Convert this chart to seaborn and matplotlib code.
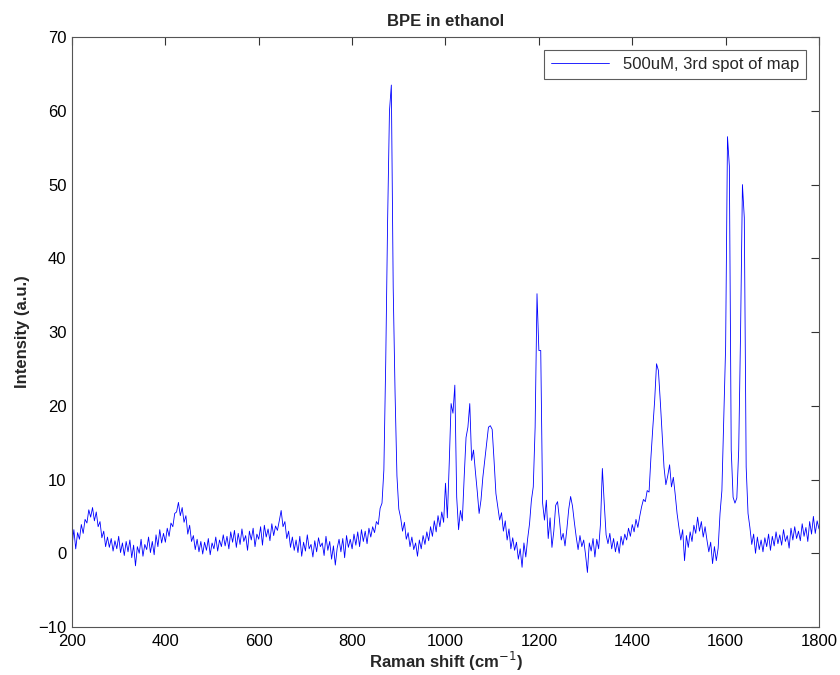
# BPE in ethanol - Raman spectrum
import numpy as np
import pandas as pd
import matplotlib
matplotlib.use('Agg')
import matplotlib.pyplot as plt
import seaborn as sns

# Raman shift axis, one reading every 4 cm-1 from 200 to 1800
shift_start = 200
shift_step = 4

# intensity, 10 readings (40 cm-1) per row
intensity = [
    1.0, 3.2, 0.6, 2.8, 1.9, 3.9, 2.7, 4.6, 4.1, 5.9,        # 200
    4.9, 6.2, 4.4, 5.6, 3.6, 4.3, 2.1, 3.0, 0.9, 2.2,        # 240
    0.8, 2.0, 0.3, 1.7, 0.6, 2.3, 0.1, 1.4, -0.3, 1.6,       # 280
    0.2, 1.8, -0.6, 1.1, -1.7, 0.9, 0.0, 1.9, -0.4, 1.2,     # 320
    0.5, 2.2, 0.1, 1.6, -0.2, 2.5, 0.9, 3.2, 1.4, 2.7,       # 360
    1.5, 3.4, 2.3, 4.1, 3.6, 5.4, 5.6, 6.9, 5.1, 6.2,        # 400
    4.2, 5.1, 2.6, 3.8, 1.6, 2.4, 0.5, 1.9, 0.2, 1.6,        # 440
    -0.1, 1.5, 0.4, 2.0, -0.2, 1.4, 0.6, 2.2, 0.3, 1.8,      # 480
    0.9, 2.5, 1.0, 2.3, 0.6, 2.9, 1.5, 3.1, 0.8, 2.7,        # 520
    1.2, 3.3, 1.6, 2.4, 0.4, 3.0, 1.8, 3.4, 0.9, 2.6,        # 560
    1.9, 3.6, 1.1, 3.8, 2.2, 3.3, 1.7, 4.0, 2.4, 3.7,        # 600
    3.1, 4.4, 5.8, 3.6, 4.3, 2.0, 3.0, 0.8, 2.2, 0.4,        # 640
    1.8, 0.1, 2.3, -0.4, 1.5, 0.3, 2.5, 0.6, 1.2, -0.5,      # 680
    1.7, 0.2, 2.1, 0.9, 1.4, -0.3, 2.3, 0.4, 1.6, -0.8,      # 720
    1.0, -1.6, 0.7, 1.9, 0.2, 2.0, -0.6, 2.4, 0.8, 1.9,      # 760
    0.6, 2.6, 1.1, 2.9, 0.9, 3.2, 1.6, 3.0, 1.3, 3.4,        # 800
    2.2, 3.6, 2.8, 4.3, 3.9, 6.1, 6.8, 11.3, 26.0, 45.0,     # 840
    60.0, 63.5, 36.0, 21.7, 10.5, 6.0, 4.8, 3.0, 4.2, 1.9,   # 880
    2.8, 0.9, 2.2, 0.5, 1.4, -0.4, 1.8, 0.6, 2.4, 1.2,       # 920
    2.9, 1.7, 3.6, 2.3, 4.4, 2.9, 5.1, 3.6, 5.6, 4.2,        # 960
    9.5, 4.8, 12.2, 20.3, 19.0, 22.8, 7.6, 3.2, 5.8, 4.4,    # 1000
    10.3, 15.7, 17.1, 20.3, 12.6, 14.0, 11.1, 8.4, 5.4, 7.2, # 1040
    10.3, 12.6, 15.0, 17.1, 17.3, 16.8, 12.6, 8.1, 6.3, 4.5, # 1080
    5.5, 3.0, 4.4, 1.8, 3.3, 0.6, 2.1, 0.4, 1.5, -0.8,       # 1120
    0.6, -1.9, 1.4, -0.5, 2.0, 4.0, 7.2, 9.0, 17.1, 35.2,    # 1160
    27.5, 27.5, 6.8, 4.5, 7.2, 2.0, 4.8, 0.8, 3.0, 6.5,      # 1200
    7.0, 4.6, 1.8, 2.7, 1.0, 3.3, 6.0, 7.7, 6.4, 4.2,        # 1240
    2.2, 0.5, 2.4, 0.9, 1.8, -0.2, -2.6, 1.4, 0.3, 2.0,      # 1280
    -0.5, 1.9, 0.6, 4.0, 11.5, 6.8, 2.5, 1.3, 2.7, 0.6,      # 1320
    2.0, 0.2, 1.6, 0.0, 2.3, 1.1, 2.6, 1.8, 3.4, 2.3,        # 1360
    3.9, 2.9, 4.6, 3.5, 5.0, 6.3, 7.3, 7.0, 8.5, 8.3,        # 1400
    13.0, 17.0, 20.7, 25.7, 24.8, 20.7, 16.3, 11.7, 9.3, 10.5,  # 1440
    12.0, 9.0, 10.3, 8.0, 5.4, 3.5, 1.8, 3.2, -1.0, 2.4,     # 1480
    0.8, 2.9, 1.6, 3.8, 2.7, 4.9, 3.0, 4.3, 2.2, 3.6,        # 1520
    1.8, 0.2, 1.5, -1.4, 0.9, -1.0, 0.7, 5.4, 8.5, 18.0,     # 1560
    28.0, 56.5, 52.5, 14.0, 7.6, 6.8, 7.5, 14.0, 30.0, 50.0, # 1600
    45.5, 11.7, 5.4, 3.5, 1.2, 2.6, 0.0, 2.2, 0.5, 1.8,      # 1640
    0.2, 2.1, 0.9, 2.6, 0.4, 2.3, 1.0, 2.9, 1.3, 2.5,        # 1680
    1.1, 3.2, 1.6, 2.4, 0.7, 3.4, 1.8, 3.6, 2.0, 3.0,        # 1720
    1.7, 4.0, 2.3, 3.5, 1.6, 4.3, 2.6, 5.0, 2.7, 4.4,        # 1760
    3.3,                                                     # 1800
]

x_ticks = [200, 400, 600, 800, 1000, 1200, 1400, 1600, 1800]
y_ticks = [-10, 0, 10, 20, 30, 40, 50, 60, 70]

shift = shift_start + shift_step * np.arange(len(intensity))
df = pd.DataFrame({'shift': shift, 'intensity': intensity})

sns.set_style('white')
plt.rcParams['font.family'] = ['Liberation Sans', 'DejaVu Sans']

fig = plt.figure(figsize=(8.4, 6.75), dpi=100)
ax = fig.add_axes([0.0857, 0.0711, 0.8893, 0.8739])

sns.lineplot(data=df, x='shift', y='intensity', color='#0000ff', linewidth=0.6,
             estimator=None, label='500uM, 3rd spot of map', ax=ax)

ax.set_xlim(200, 1800)
ax.set_ylim(-10, 70)
ax.set_xticks(x_ticks)
ax.set_yticks(y_ticks)
ax.tick_params(direction='in', length=6, width=0.8, top=True, right=True,
               labelsize=12, colors='#333333', labelcolor='black')
ax.tick_params(axis='x', pad=5)
ax.tick_params(axis='y', pad=4)
for s in ax.spines.values():
    s.set_color('#555555')
    s.set_linewidth(0.8)

ax.set_title('BPE in ethanol', fontsize=12, fontweight='bold', pad=8)
ax.set_xlabel('Raman shift (cm$^{-1}$)', fontsize=12, fontweight='bold', labelpad=1)
ax.set_ylabel('Intensity (a.u.)', fontsize=12, fontweight='bold', labelpad=6)

leg = ax.legend(loc='upper right', fontsize=12, fancybox=False, frameon=True,
                borderaxespad=0.8, handlelength=3.5, borderpad=0.4)
leg.get_frame().set_edgecolor('#333333')
leg.get_frame().set_linewidth(0.8)

fig.savefig('out.png', dpi=100)
